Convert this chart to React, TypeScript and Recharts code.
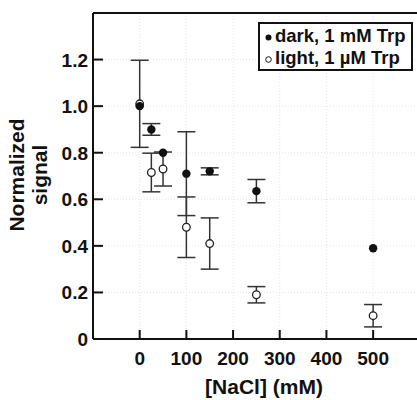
import { ScatterChart, Scatter, XAxis, YAxis, CartesianGrid, ErrorBar, ReferenceLine, Legend } from 'recharts'

const FONT = '"Liberation Sans", Arial, sans-serif'

// [NaCl] in mM
const nacl = [0, 25, 50, 100, 150, 250, 500]

// dark, 1 mM Trp (null = no visible error bar)
const darkSignal = [1.0, 0.9, 0.8, 0.71, 0.72, 0.635, 0.39]
const darkErr = [null, 0.025, null, 0.18, 0.015, 0.05, null]

// light, 1 µM Trp
const lightSignal = [1.01, 0.715, 0.73, 0.48, 0.41, 0.19, 0.1]
const lightErr = [0.187, 0.083, 0.073, 0.13, 0.11, 0.035, 0.048]

const xTicks = [0, 100, 200, 300, 400, 500]
const yTicks = [0, 0.2, 0.4, 0.6, 0.8, 1.0, 1.2]
const yLabels = ['0', '0.2', '0.4', '0.6', '0.8', '1.0', '1.2']

const darkData = nacl.map((x, i) => ({ x, y: darkSignal[i], err: darkErr[i] }))
const lightData = nacl.map((x, i) => ({ x, y: lightSignal[i], err: lightErr[i] }))

const XTick = (props: any) => {
    const { x, y, payload } = props
    return (
        <g>
            <line x1={x} y1={y} x2={x} y2={y - 9} stroke="#111" strokeWidth={2} />
            <text x={x} y={y + 26} textAnchor="middle" fontFamily={FONT} fontWeight="bold" fontSize={19} fill="#111">
                {payload.value}
            </text>
        </g>
    )
}

const YTick = (props: any) => {
    const { x, y, payload } = props
    const idx = yTicks.findIndex((t) => Math.abs(t - payload.value) < 1e-6)
    return (
        <g>
            <line x1={x} y1={y} x2={x + 10} y2={y} stroke="#111" strokeWidth={2} />
            <text x={x - 5} y={y + 7} textAnchor="end" fontFamily={FONT} fontWeight="bold" fontSize={19} fill="#111">
                {idx >= 0 ? yLabels[idx] : payload.value}
            </text>
        </g>
    )
}

const FilledDot = (props: any) => <circle cx={props.cx} cy={props.cy} r={4.2} fill="#111" />
const OpenDot = (props: any) => <circle cx={props.cx} cy={props.cy} r={3.8} fill="#fff" stroke="#222" strokeWidth={1.3} />

const LegendBox = () => (
    <div
        style={{
            boxSizing: 'border-box',
            border: '2px solid #111',
            background: '#fff',
            fontFamily: FONT,
            fontWeight: 'bold',
            fontSize: 18.5,
            color: '#111',
            padding: '1px 0 0 4px',
            lineHeight: '22px',
            width: 155,
            height: 49,
            whiteSpace: 'nowrap',
        }}
    >
        <div>
            <svg width={9} height={9} style={{ marginRight: 2 }}>
                <circle cx={4.5} cy={4.5} r={3} fill="#111" />
            </svg>
            dark, 1 mM Trp
        </div>
        <div>
            <svg width={9} height={9} style={{ marginRight: 2 }}>
                <circle cx={4.5} cy={4.5} r={2.8} fill="#fff" stroke="#111" strokeWidth={1} />
            </svg>
            light, 1 µM Trp
        </div>
    </div>
)

export default function App() {
    return (
        <div style={{ position: 'absolute', left: 0, top: 0, width: 417, height: 400, background: '#fff' }}>
            <ScatterChart width={417} height={400} margin={{ top: 13, right: 0, bottom: 0, left: 0 }}>
                <CartesianGrid stroke="#e4e4e4" strokeDasharray="1 2" horizontalValues={yTicks} verticalValues={xTicks} />
                <XAxis
                    type="number"
                    dataKey="x"
                    domain={[-100, 594]}
                    ticks={xTicks}
                    allowDataOverflow
                    height={61}
                    tickSize={0}
                    tickMargin={0}
                    tickLine={false}
                    axisLine={{ stroke: '#111', strokeWidth: 2 }}
                    tick={<XTick />}
                    label={{
                        value: '[NaCl] (mM)',
                        position: 'insideBottom',
                        offset: 6,
                        dx: 9,
                        style: { fontFamily: FONT, fontWeight: 'bold', fontSize: 21, fill: '#111' },
                    }}
                />
                <YAxis
                    type="number"
                    dataKey="y"
                    domain={[0, 1.4]}
                    ticks={yTicks}
                    allowDataOverflow
                    width={93}
                    tickSize={0}
                    tickMargin={0}
                    tickLine={false}
                    axisLine={{ stroke: '#111', strokeWidth: 2 }}
                    tick={<YTick />}
                    label={{
                        content: () => (
                            <text
                                transform="rotate(-90, 28, 175)"
                                x={28}
                                y={175}
                                textAnchor="middle"
                                fontFamily={FONT}
                                fontWeight="bold"
                                fontSize={21}
                                fill="#111"
                            >
                                <tspan x={28} dy={-4}>Normalized</tspan>
                                <tspan x={28} dy={23}>signal</tspan>
                            </text>
                        ),
                    }}
                />
                <ReferenceLine y={1.4} stroke="#111" strokeWidth={2} ifOverflow="visible" />
                <Legend
                    layout="vertical"
                    align="center"
                    verticalAlign="middle"
                    content={<LegendBox />}
                    wrapperStyle={{ position: 'absolute', top: 22, left: 258, width: 155, height: 49 }}
                />
                <Scatter name="light, 1 µM Trp" data={lightData} shape={<OpenDot />} isAnimationActive={false}>
                    <ErrorBar dataKey="err" direction="y" width={9} stroke="#333" strokeWidth={1.5} />
                </Scatter>
                <Scatter name="dark, 1 mM Trp" data={darkData} shape={<FilledDot />} isAnimationActive={false}>
                    <ErrorBar dataKey="err" direction="y" width={9} stroke="#333" strokeWidth={1.5} />
                </Scatter>
            </ScatterChart>
        </div>
    )
}
